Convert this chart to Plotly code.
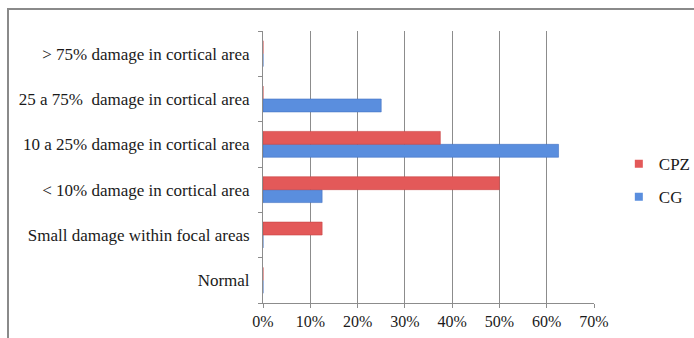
import plotly.graph_objects as go

# Damage categories, listed bottom to top on the y axis
categories = [
    "Normal",
    "Small damage within focal areas",
    "< 10% damage in cortical area",
    "10 a 25% damage in cortical area",
    "25 a 75%  damage in cortical area",
    "> 75% damage in cortical area",
]

# Share of animals per category (fractions)
cg_values = [0.0, 0.0, 0.125, 0.625, 0.25, 0.0]
cpz_values = [0.0, 0.125, 0.5, 0.375, 0.0, 0.0]

x_ticks = [0.0, 0.1, 0.2, 0.3, 0.4, 0.5, 0.6, 0.7]

serif = "Liberation Serif"
grid_col = "#8c8c8c"
text_col = "#1a1a1a"
cg_col = "#5a8ede"
cpz_col = "#e35959"

fig = go.Figure()
fig.add_trace(go.Bar(
    y=categories, x=cg_values, name="CG", orientation="h", showlegend=False,
    marker=dict(color=cg_col, line=dict(color="#4474c4", width=0.6)),
))
fig.add_trace(go.Bar(
    y=categories, x=cpz_values, name="CPZ", orientation="h", showlegend=False,
    marker=dict(color=cpz_col, line=dict(color="#c94545", width=0.6)),
))

# Legend entries with small square swatches
for name, col, grp in [("CPZ", cpz_col, "a"), ("CG", cg_col, "b")]:
    fig.add_trace(go.Scatter(
        x=[None], y=[None], mode="markers", name=name, legendgroup=grp,
        marker=dict(symbol="square", size=8, color=col),
    ))

fig.update_layout(
    width=694, height=338,
    margin=dict(l=263, r=100, t=31, b=35, autoexpand=False),
    paper_bgcolor="white", plot_bgcolor="white",
    barmode="group", bargap=0.43, bargroupgap=0.0,
    font=dict(family=serif, size=16, color=text_col),
    legend=dict(
        traceorder="grouped",
        x=1.075, y=0.45, xanchor="left", yanchor="middle",
        font=dict(family=serif, size=17, color=text_col),
        itemwidth=30, tracegroupgap=8, bgcolor="rgba(0,0,0,0)",
    ),
    showlegend=True,
    shapes=[dict(
        type="rect", xref="paper", yref="paper",
        x0=-0.7704, x1=1.6, y0=-0.5, y1=1.081,
        line=dict(color="#8a8a8a", width=2), layer="below",
    )],
)

fig.update_xaxes(
    range=[0, 0.7], tickvals=x_ticks, tickformat=".0%",
    showgrid=True, gridcolor=grid_col, gridwidth=1,
    showline=True, linecolor=grid_col, linewidth=1,
    ticks="outside", ticklen=4, tickcolor=grid_col,
    zeroline=False, fixedrange=True,
    tickfont=dict(family=serif, size=16, color=text_col),
)
fig.update_yaxes(
    categoryorder="array", categoryarray=categories,
    range=[-0.5, 5.5],
    showgrid=False, showline=True, linecolor=grid_col, linewidth=1,
    ticks="outside", ticklen=4, tickcolor=grid_col, tickson="boundaries",
    ticklabelstandoff=9,
    tickfont=dict(family=serif, size=17, color=text_col),
    fixedrange=True,
)

fig.write_html("out.html", config={"displayModeBar": False})
